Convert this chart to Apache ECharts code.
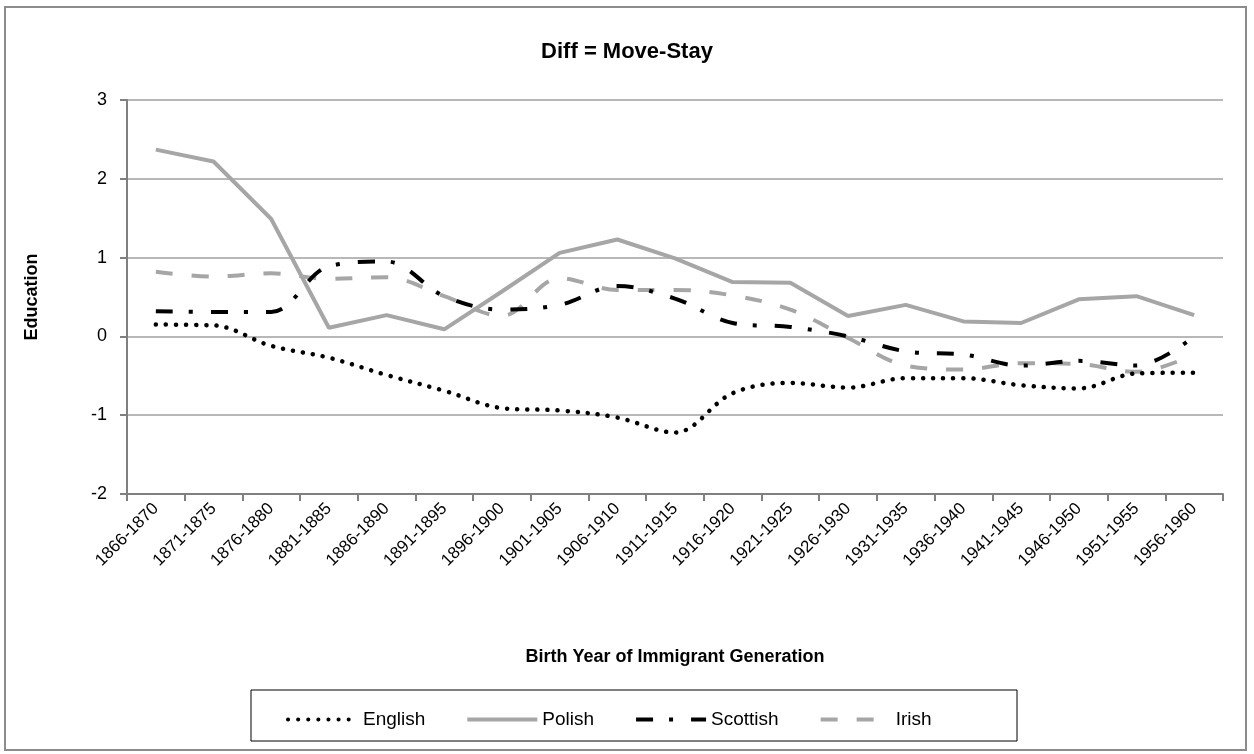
<!DOCTYPE html>
<html>
<head>
<meta charset="utf-8">
<script src="https://cdn.jsdelivr.net/npm/echarts@6/dist/echarts.min.js"></script>
<style>
  html, body { margin: 0; padding: 0; background: #fff; }
  #frame { position: absolute; left: 4px; top: 6px; width: 1243px; height: 745px; border: 2px solid #8c8c8c; box-sizing: border-box; }
  #chart { position: absolute; left: 0; top: 0; width: 1254px; height: 754px; }
</style>
</head>
<body>
<div id="frame"></div>
<div id="chart"></div>
<script>
  // 出生年份分组
  var categories = ['1866-1870', '1871-1875', '1876-1880', '1881-1885', '1886-1890', '1891-1895',
    '1896-1900', '1901-1905', '1906-1910', '1911-1915', '1916-1920', '1921-1925', '1926-1930',
    '1931-1935', '1936-1940', '1941-1945', '1946-1950', '1951-1955', '1956-1960']
  var english = [0.15, 0.14, -0.12, -0.27, -0.49, -0.69, -0.91, -0.94, -1.03, -1.22, -0.72, -0.59, -0.65, -0.53, -0.53, -0.62, -0.66, -0.47, -0.46]
  var polish = [2.37, 2.22, 1.49, 0.11, 0.27, 0.09, 0.57, 1.06, 1.23, 0.99, 0.69, 0.68, 0.26, 0.40, 0.19, 0.17, 0.47, 0.51, 0.27]
  var scottish = [0.32, 0.31, 0.31, 0.89, 0.95, 0.51, 0.34, 0.40, 0.64, 0.48, 0.17, 0.12, 0.00, -0.19, -0.23, -0.37, -0.31, -0.37, 0.00]
  var irish = [0.82, 0.76, 0.80, 0.73, 0.75, 0.51, 0.26, 0.74, 0.59, 0.59, 0.52, 0.34, -0.02, -0.37, -0.42, -0.34, -0.35, -0.45, -0.23]
  var yTicks = {min: -2, max: 3, interval: 1}

  var font = "'Liberation Sans', sans-serif"
  var gray = '#a6a6a6'

  var chart = echarts.init(document.getElementById('chart'))
  chart.setOption({
    animation: false,
    textStyle: {fontFamily: font},
    title: {
      text: 'Diff = Move-Stay',
      left: 'center',
      top: 36,
      textStyle: {fontSize: 22, fontWeight: 'bold', color: '#000', fontFamily: font}
    },
    grid: {left: 127, right: 31, top: 100, bottom: 260},
    legend: {
      left: 281,
      top: 705,
      itemWidth: 70,
      itemHeight: 14,
      itemGap: 40,
      itemStyle: {opacity: 0},
      lineStyle: {width: 4},
      textStyle: {fontSize: 19, color: '#000', fontFamily: font},
      data: ['English', 'Polish', 'Scottish', 'Irish']
    },
    graphic: [{
      type: 'rect',
      shape: {x: 251, y: 690, width: 766, height: 51},
      style: {fill: 'none', stroke: '#000', lineWidth: 1}
    }],
    xAxis: {
      type: 'category',
      data: categories,
      boundaryGap: true,
      name: 'Birth Year of Immigrant Generation',
      nameLocation: 'middle',
      nameGap: 154,
      nameTextStyle: {fontSize: 18, fontWeight: 'bold', color: '#000', fontFamily: font},
      axisLine: {onZero: false, lineStyle: {color: '#808080', width: 2}},
      axisTick: {show: true, alignWithLabel: false, length: 7, lineStyle: {color: '#808080', width: 2}},
      axisLabel: {rotate: 45, fontSize: 17, color: '#000', margin: 12, interval: 0, fontFamily: font},
      splitLine: {show: false}
    },
    yAxis: {
      type: 'value',
      min: yTicks.min,
      max: yTicks.max,
      interval: yTicks.interval,
      name: 'Education',
      nameLocation: 'middle',
      nameGap: 86,
      nameRotate: 90,
      nameTextStyle: {fontSize: 18, fontWeight: 'bold', color: '#000', fontFamily: font},
      axisLine: {show: true, lineStyle: {color: '#808080', width: 2}},
      axisTick: {show: true, inside: false, length: 7, lineStyle: {color: '#808080', width: 2}},
      axisLabel: {fontSize: 18, color: '#000', margin: 20, fontFamily: font},
      splitLine: {lineStyle: {color: '#a0a0a0', width: 1.5}}
    },
    series: [
      {
        name: 'English',
        type: 'line',
        data: english,
        symbol: 'none',
        smooth: 0.35,
        itemStyle: {color: '#000'},
        lineStyle: {color: '#000', width: 4.5, type: [0.1, 10], cap: 'round'},
        z: 4
      },
      {
        name: 'Polish',
        type: 'line',
        data: polish,
        symbol: 'none',
        itemStyle: {color: gray},
        lineStyle: {color: gray, width: 4},
        z: 2
      },
      {
        name: 'Scottish',
        type: 'line',
        data: scottish,
        symbol: 'none',
        smooth: 0.35,
        itemStyle: {color: '#000'},
        lineStyle: {color: '#000', width: 4, type: [17, 16, 4, 18]},
        z: 5
      },
      {
        name: 'Irish',
        type: 'line',
        data: irish,
        symbol: 'none',
        smooth: 0.35,
        itemStyle: {color: gray},
        lineStyle: {color: gray, width: 4, type: [17, 19]},
        z: 3
      }
    ]
  })
</script>
</body>
</html>
